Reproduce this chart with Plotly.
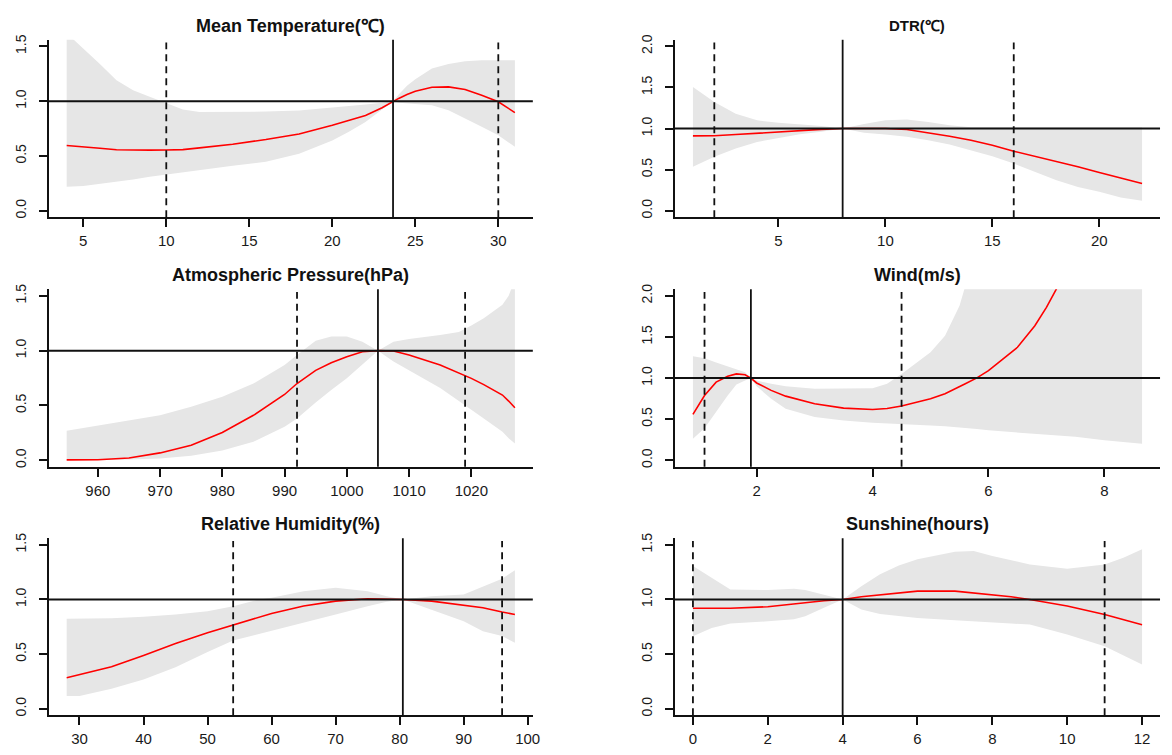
import plotly.graph_objects as go

# ---------------- data ----------------
titles = ["Mean Temperature(℃)", "DTR(℃)", "Atmospheric Pressure(hPa)",
          "Wind(m/s)", "Relative Humidity(%)", "Sunshine(hours)"]

temp_x = [4, 5, 6, 7, 8, 9, 10, 11, 12, 14, 16, 18, 20, 21, 22, 23, 23.66, 24, 24.5, 25, 26, 27, 28, 29, 30, 31]
temp_rr = [0.595, 0.585, 0.57, 0.557, 0.553, 0.553, 0.555, 0.558, 0.574, 0.607, 0.65, 0.70, 0.78, 0.825, 0.87, 0.94,
           1.0, 1.025, 1.06, 1.09, 1.127, 1.13, 1.106, 1.054, 0.994, 0.896]
temp_hi = [1.62, 1.48, 1.34, 1.19, 1.10, 1.04, 0.978, 0.923, 0.90, 0.90, 0.905, 0.915, 0.94, 0.955, 0.97, 0.985,
           1.0, 1.06, 1.14, 1.2, 1.297, 1.34, 1.364, 1.373, 1.373, 1.373]
temp_lo = [0.219, 0.225, 0.243, 0.265, 0.285, 0.31, 0.334, 0.352, 0.37, 0.41, 0.447, 0.52, 0.64, 0.72, 0.81, 0.923,
           1.0, 0.985, 0.978, 0.975, 0.963, 0.917, 0.84, 0.766, 0.69, 0.583]

dtr_x = [1, 2, 3, 4, 5, 6, 7, 8, 9, 10, 11, 12, 13, 14, 15, 16, 17, 18, 19, 20, 21, 22]
dtr_rr = [0.911, 0.912, 0.927, 0.945, 0.96, 0.975, 0.99, 1.0, 1.0, 1.0, 0.988, 0.951, 0.906, 0.858, 0.797, 0.724,
          0.663, 0.595, 0.535, 0.465, 0.40, 0.332]
dtr_hi = [1.507, 1.324, 1.18, 1.10, 1.07, 1.05, 1.03, 1.0, 1.055, 1.10, 1.11, 1.08, 1.04, 1.015, 1.012, 1.012,
          1.015, 1.015, 1.015, 1.015, 1.015, 1.015]
dtr_lo = [0.535, 0.656, 0.757, 0.838, 0.887, 0.93, 0.96, 1.0, 0.95, 0.927, 0.90, 0.858, 0.806, 0.737, 0.663, 0.575,
          0.474, 0.372, 0.29, 0.231, 0.162, 0.122]

pres_x = [955, 960, 965, 970, 975, 980, 985, 990, 992, 995, 997.5, 1000, 1002.5, 1005, 1007.5, 1010, 1015, 1018,
          1020, 1022, 1025, 1026, 1027]
pres_rr = [0.003, 0.005, 0.02, 0.067, 0.137, 0.253, 0.41, 0.60, 0.70, 0.82, 0.89, 0.945, 0.99, 1.0, 0.997, 0.96,
           0.87, 0.80, 0.747, 0.69, 0.595, 0.54, 0.479]
pres_hi = [0.268, 0.314, 0.36, 0.41, 0.488, 0.58, 0.70, 0.87, 0.96, 1.09, 1.128, 1.128, 1.08, 1.0, 1.08, 1.107,
           1.143, 1.17, 1.23, 1.296, 1.418, 1.5, 1.65]
pres_lo = [0.003, 0.004, 0.006, 0.015, 0.04, 0.09, 0.168, 0.305, 0.38, 0.527, 0.64, 0.747, 0.87, 1.0, 0.9, 0.823,
           0.66, 0.54, 0.457, 0.38, 0.26, 0.2, 0.152]

wind_x = [0.9, 1.1, 1.3, 1.5, 1.65, 1.8, 1.9, 2.0, 2.25, 2.5, 3, 3.5, 4, 4.25, 4.5, 5, 5.25, 5.5, 5.6, 5.8, 6,
          6.5, 6.8, 7, 7.2, 7.5, 8, 8.65]
wind_rr = [0.558, 0.788, 0.95, 1.022, 1.05, 1.04, 1.0, 0.94, 0.85, 0.78, 0.687, 0.634, 0.618, 0.63, 0.659, 0.747,
           0.81, 0.889, 0.93, 1.002, 1.09, 1.374, 1.636, 1.86, 2.12, None, None, None]
wind_hi = [1.265, 1.24, 1.19, 1.143, 1.11, 1.07, 1.0, 0.97, 0.93, 0.90, 0.869, 0.869, 0.877, 0.93, 1.05, 1.313,
           1.515, 1.88, 2.1, 2.6, 3.2, 5.0, 6.5, 7.5, 8.5, 10.0, 14.0, 20.0]
wind_lo = [0.263, 0.39, 0.586, 0.788, 0.92, 0.97, 1.0, 0.90, 0.747, 0.626, 0.525, 0.485, 0.457, 0.45, 0.44, 0.424,
           0.415, 0.40, 0.395, 0.38, 0.364, 0.337, 0.32, 0.311, 0.30, 0.285, 0.242, 0.202]

hum_x = [28, 30, 35, 40, 45, 50, 54, 58, 60, 65, 70, 75, 78, 80.5, 85, 90, 93, 96, 98]
hum_rr = [0.284, 0.314, 0.384, 0.488, 0.598, 0.695, 0.768, 0.84, 0.872, 0.94, 0.985, 1.006, 1.006, 1.0, 0.985,
          0.945, 0.924, 0.885, 0.863]
hum_hi = [0.823, 0.823, 0.829, 0.841, 0.863, 0.893, 0.939, 1.0, 1.015, 1.076, 1.107, 1.076, 1.03, 1.0, 1.03,
          1.046, 1.12, 1.19, 1.268]
hum_lo = [0.116, 0.116, 0.183, 0.268, 0.38, 0.52, 0.625, 0.68, 0.71, 0.787, 0.863, 0.939, 0.98, 1.0, 0.909,
          0.80, 0.71, 0.665, 0.604]

sun_x = [0, 0.5, 1, 2, 2.7, 3, 3.5, 4, 4.5, 5, 5.5, 6, 7, 7.5, 8, 8.5, 9, 10, 11, 11.5, 12]
sun_rr = [0.92, 0.92, 0.92, 0.933, 0.955, 0.97, 0.988, 1.0, 1.025, 1.043, 1.06, 1.076, 1.076, 1.06, 1.046, 1.025,
          1.0, 0.94, 0.862, 0.815, 0.768]
sun_hi = [1.306, 1.2, 1.09, 1.086, 1.098, 1.086, 1.046, 1.0, 1.12, 1.23, 1.31, 1.367, 1.437, 1.443, 1.398, 1.36,
          1.32, 1.28, 1.32, 1.382, 1.459]
sun_lo = [0.664, 0.74, 0.78, 0.80, 0.82, 0.847, 0.924, 1.0, 0.908, 0.868, 0.85, 0.83, 0.81, 0.80, 0.792, 0.78,
          0.77, 0.679, 0.572, 0.49, 0.404]

# reference (solid) and percentile (dashed) vertical lines
ref_solid = [23.66, 8, 1005, 1.9, 80.5, 4]
ref_dashed = [[10, 30], [2, 16], [992, 1019], [1.1, 4.5], [54, 96], [0, 11]]
y_max = [1.5, 2.0, 1.5, 2.0, 1.5, 1.5]
x_dtick = [5, 5, 10, 2, 10, 2]

series = [
    (temp_x, temp_rr, temp_lo, temp_hi),
    (dtr_x, dtr_rr, dtr_lo, dtr_hi),
    (pres_x, pres_rr, pres_lo, pres_hi),
    (wind_x, wind_rr, wind_lo, wind_hi),
    (hum_x, hum_rr, hum_lo, hum_hi),
    (sun_x, sun_rr, sun_lo, sun_hi),
]

# ---------------- layout (pixels in the 1172x755 frame) ----------------
OFF = 8                      # page body margin
W, H = 1172 - OFF, 755 - OFF
col_px = [(49, 536), (679, 1167)]
row_px = [(35, 214), (286.5, 465.5), (537.5, 716)]
title_px = [21, 272.5, 523]
title_size = [18, 15, 18, 18, 18, 18]


def px_x(p):
    return (p - OFF) / W


def px_y(p):
    return 1 - (p - OFF) / H


FONT = "Liberation Sans, Arial, sans-serif"
fig = go.Figure()
shapes, annotations = [], []
layout = {}

for i, (xs, rr, lo, hi) in enumerate(series):
    n = i + 1
    r, c = divmod(i, 2)
    xa = "x" if n == 1 else f"x{n}"
    ya = "y" if n == 1 else f"y{n}"
    x0p, x1p = col_px[c]
    t, b = row_px[r]

    fig.add_trace(go.Scatter(
        x=list(xs) + list(xs)[::-1], y=list(hi) + list(lo)[::-1],
        fill="toself", fillcolor="#e6e6e6", mode="lines", line=dict(width=0),
        hoverinfo="skip", xaxis=xa, yaxis=ya, showlegend=False))
    fig.add_trace(go.Scatter(
        x=xs, y=rr, mode="lines", line=dict(color="#ff0000", width=1.6),
        xaxis=xa, yaxis=ya, showlegend=False))

    span = max(xs) - min(xs)
    xr = [min(xs) - 0.04 * span, max(xs) + 0.04 * span]
    ym = y_max[i]
    yr = [-0.04 * ym, ym * 1.04]

    axis_common = dict(showline=True, linecolor="#111", linewidth=2, ticks="outside",
                       ticklen=8, tickwidth=1.6, tickcolor="#111", showgrid=False,
                       zeroline=False, mirror=False)
    layout[("xaxis" if n == 1 else f"xaxis{n}")] = dict(
        domain=[px_x(x0p), px_x(x1p)], anchor=ya, range=xr, dtick=x_dtick[i], tick0=0,
        tickfont=dict(family=FONT, size=15, color="#1a1a1a"), ticklabelstandoff=1,
        **axis_common)
    layout[("yaxis" if n == 1 else f"yaxis{n}")] = dict(
        domain=[px_y(b), px_y(t)], anchor=xa, range=yr, dtick=0.5, tick0=0,
        tickformat=".1f", tickangle=-90,
        tickfont=dict(family=FONT, size=14, color="#1a1a1a"), ticklabelstandoff=7,
        **axis_common)

    shapes.append(dict(type="line", xref=f"{xa} domain", x0=0, x1=1, yref=ya, y0=1, y1=1,
                       line=dict(color="#111", width=2), layer="above"))
    shapes.append(dict(type="line", xref=xa, x0=ref_solid[i], x1=ref_solid[i],
                       yref=f"{ya} domain", y0=0, y1=1,
                       line=dict(color="#111", width=1.8), layer="above"))
    for d in ref_dashed[i]:
        shapes.append(dict(type="line", xref=xa, x0=d, x1=d, yref=f"{ya} domain", y0=0, y1=0.985,
                           line=dict(color="#111", width=1.8, dash="7px,5px"), layer="above"))

    annotations.append(dict(text=f"<b>{titles[i]}</b>", xref="paper", yref="paper",
                            x=(px_x(x0p) + px_x(x1p)) / 2, y=px_y(title_px[r]),
                            xanchor="center", yanchor="middle", showarrow=False,
                            font=dict(family=FONT, size=title_size[i], color="#111")))

fig.update_layout(width=W, height=H, margin=dict(l=0, r=0, t=0, b=0),
                  paper_bgcolor="white", plot_bgcolor="white",
                  shapes=shapes, annotations=annotations, showlegend=False, **layout)

fig.write_html("out.html")
